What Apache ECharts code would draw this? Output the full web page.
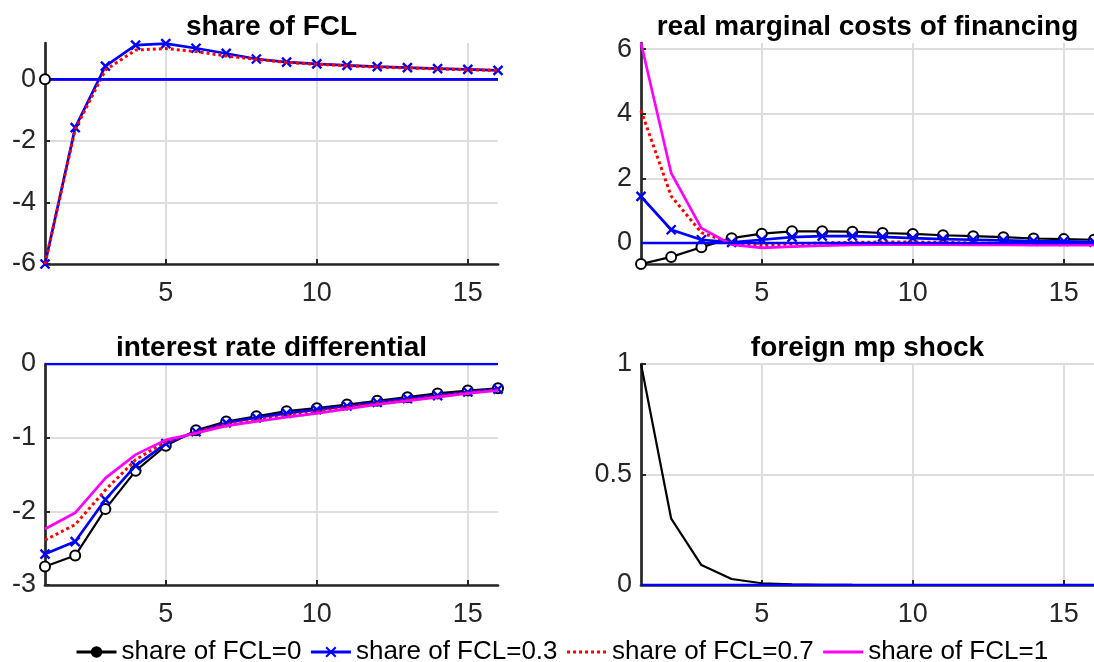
<!DOCTYPE html>
<html>
<head>
<meta charset="UTF-8">
<title>impulse responses</title>
<style>
html,body{margin:0;padding:0;background:#fff;}
#main{width:1094px;height:662px;}
</style>
</head>
<body>
<div id="main"></div>
<script src="https://cdn.jsdelivr.net/npm/echarts@6/dist/echarts.min.js"></script>
<script>
var periods = [1,2,3,4,5,6,7,8,9,10,11,12,13,14,15,16];
var xTicks = [5,10,15];
var names = ['share of FCL=0','share of FCL=0.3','share of FCL=0.7','share of FCL=1'];
var titles = ['share of FCL','real marginal costs of financing','interest rate differential','foreign mp shock'];

// share of FCL
var fcl_0 = [0];
var fcl_03 = [-6.0,-1.57,0.43,1.11,1.16,1.01,0.84,0.66,0.56,0.50,0.45,0.41,0.38,0.35,0.32,0.29];
var fcl_07 = [-6.0,-1.62,0.30,0.95,1.00,0.90,0.76,0.65,0.55,0.49,0.44,0.40,0.37,0.34,0.31,0.29];
var fcl_1 = [0,0,0,0,0,0,0,0,0,0,0,0,0,0,0,0];
var fclTicks = [-6,-4,-2,0];

// real marginal costs of financing
var cost_0 = [-0.65,-0.43,-0.13,0.15,0.29,0.36,0.36,0.35,0.31,0.28,0.24,0.21,0.18,0.14,0.12,0.10];
var cost_03 = [1.44,0.41,0.10,0.02,0.10,0.18,0.21,0.21,0.19,0.15,0.12,0.10,0.08,0.06,0.05,0.03];
var cost_07 = [4.10,1.45,0.32,0.00,-0.08,-0.03,0.00,0.02,0.03,0.03,0.02,0.00,-0.02,-0.03,-0.04,-0.05];
var cost_1 = [6.19,2.16,0.46,-0.05,-0.15,-0.11,-0.08,-0.06,-0.05,-0.05,-0.05,-0.06,-0.06,-0.07,-0.07,-0.07];
var costTicks = [0,2,4,6];

// interest rate differential
var ird_0 = [-2.75,-2.60,-1.97,-1.45,-1.11,-0.90,-0.78,-0.71,-0.64,-0.60,-0.55,-0.50,-0.45,-0.40,-0.36,-0.33];
var ird_03 = [-2.58,-2.41,-1.84,-1.38,-1.08,-0.92,-0.80,-0.73,-0.67,-0.62,-0.57,-0.52,-0.47,-0.43,-0.38,-0.34];
var ird_07 = [-2.39,-2.18,-1.71,-1.30,-1.05,-0.93,-0.82,-0.76,-0.70,-0.65,-0.59,-0.54,-0.49,-0.44,-0.39,-0.35];
var ird_1 = [-2.24,-2.02,-1.55,-1.23,-1.03,-0.94,-0.84,-0.78,-0.72,-0.67,-0.61,-0.55,-0.50,-0.45,-0.40,-0.36];
var irdTicks = [-3,-2,-1,0];

// foreign mp shock
var shock = [1,0.3,0.09,0.027,0.008,0.0024,0.0007,0.0002,0.0001,0,0,0,0,0,0,0];
var shockTicks = [0,0.5,1];

var zeros = [0,0,0,0,0,0,0,0,0,0,0,0,0,0,0,0];

var font = "'Liberation Sans', Arial, Helvetica, sans-serif";
var axisColor = '#262626';
var gridColor = '#dddddd';

function pts(vals){
	var out = [];
	for (var i = 0; i < vals.length; i++) out.push([periods[i], vals[i]]);
	return out;
}

var grids = [
	{left:45, top:43, width:453, height:221},
	{left:641, top:43, width:453, height:221},
	{left:45, top:364, width:453, height:221},
	{left:641, top:364, width:453, height:221}
];
var yRanges = [[-6,1.18],[-0.65,6.19],[-3,0],[0,1]];
var yTicks = [fclTicks, costTicks, irdTicks, shockTicks];

var xAxes = [], yAxes = [], titleList = [];
for (var g = 0; g < 4; g++) {
	xAxes.push({
		type:'value', gridIndex:g, min:1, max:16,
		axisLine:{show:true, onZero:false, lineStyle:{color:axisColor, width:2.7}},
		axisTick:{show:true, inside:true, length:5, customValues:xTicks, lineStyle:{color:axisColor, width:2}},
		axisLabel:{customValues:xTicks, fontSize:27, color:axisColor, margin:16, fontFamily:font},
		splitLine:{show:true, lineStyle:{color:gridColor, width:2}}
	});
	yAxes.push({
		type:'value', gridIndex:g, min:yRanges[g][0], max:yRanges[g][1],
		axisLine:{show:true, onZero:false, lineStyle:{color:axisColor, width:2.7}},
		axisTick:{show:true, inside:true, length:5, customValues:yTicks[g], lineStyle:{color:axisColor, width:2}},
		axisLabel:{customValues:yTicks[g], fontSize:27, color:axisColor, margin:9, fontFamily:font},
		splitLine:{show:true, lineStyle:{color:gridColor, width:2}}
	});
	titleList.push({
		text:titles[g], left:grids[g].left + grids[g].width/2, textAlign:'center',
		top:grids[g].top - 30, padding:0,
		textStyle:{fontSize:28, fontWeight:'bold', color:'#000', fontFamily:font}
	});
}

var xMark = 'path://M0,0L10,10M10,0L0,10';

function black(g, vals, marks){
	return {name:names[0], type:'line', xAxisIndex:g, yAxisIndex:g, data:pts(vals),
		symbol:'circle', symbolSize:10, showSymbol:marks,
		lineStyle:{color:'#000', width:2.2}, itemStyle:{color:'#fff', borderColor:'#000', borderWidth:2}, z:3};
}
function blue(g, vals){
	return {name:names[1], type:'line', xAxisIndex:g, yAxisIndex:g, data:pts(vals),
		symbol:xMark, symbolSize:9,
		lineStyle:{color:'#0000ff', width:2.7}, itemStyle:{color:'#0000ff', borderColor:'#0000ff', borderWidth:2.4}, z:4};
}
function red(g, vals){
	return {name:names[2], type:'line', xAxisIndex:g, yAxisIndex:g, data:pts(vals), symbol:'none',
		lineStyle:{color:'#ff0000', width:3, type:[3,3]}, itemStyle:{color:'#ff0000'}, z:5};
}
function magenta(g, vals){
	return {name:names[3], type:'line', xAxisIndex:g, yAxisIndex:g, data:pts(vals), symbol:'none',
		lineStyle:{color:'#ff00ff', width:2.7}, itemStyle:{color:'#ff00ff'}, z:6};
}
function zeroLine(g){
	return {name:'zero', type:'line', xAxisIndex:g, yAxisIndex:g, data:pts(zeros), symbol:'none',
		lineStyle:{color:'#0000ff', width:2.7}, z:7};
}

var series = [
	black(0, fcl_0, true), blue(0, fcl_03), red(0, fcl_07), magenta(0, fcl_1), zeroLine(0),
	black(1, cost_0, true), blue(1, cost_03), red(1, cost_07), magenta(1, cost_1), zeroLine(1),
	black(2, ird_0, true), blue(2, ird_03), red(2, ird_07), magenta(2, ird_1), zeroLine(2),
	black(3, shock, false), zeroLine(3)
];
// black circle at t=1 sits on top of the zero line
series[0].z = 8;

var chart = echarts.init(document.getElementById('main'), null, {renderer:'canvas'});
chart.setOption({
	animation:false,
	backgroundColor:'#fff',
	title:titleList,
	grid:grids,
	xAxis:xAxes,
	yAxis:yAxes,
	legend:{
		data:[
			{name:names[0], itemStyle:{color:'#000', borderColor:'#000'}, lineStyle:{width:3}},
			{name:names[1], lineStyle:{width:3}},
			{name:names[2], itemStyle:{opacity:0}, lineStyle:{width:3}},
			{name:names[3], itemStyle:{opacity:0}, lineStyle:{width:3}}
		],
		left:75, top:639, padding:0, itemWidth:40, itemHeight:12, itemGap:8,
		textStyle:{fontSize:26, color:'#000', fontFamily:font}
	},
	series:series
});
</script>
</body>
</html>
